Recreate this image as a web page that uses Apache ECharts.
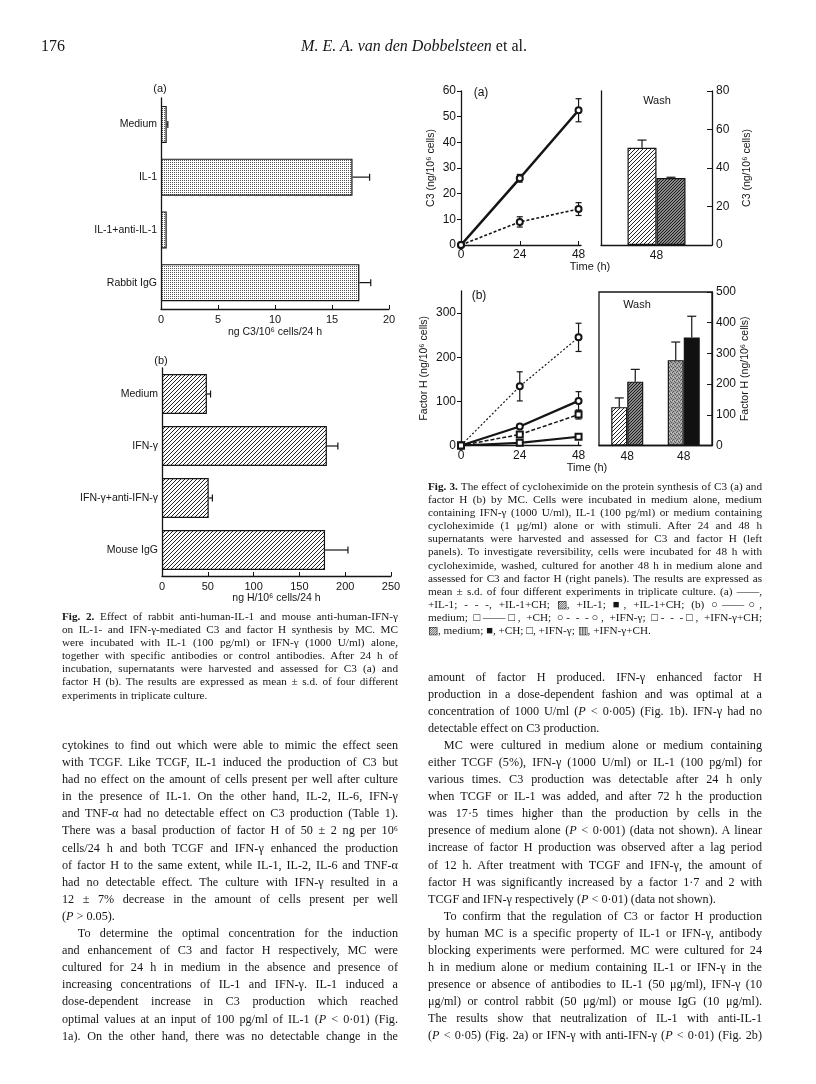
<!DOCTYPE html>
<html><head><meta charset="utf-8">
<script src="https://cdn.jsdelivr.net/npm/echarts@6/dist/echarts.min.js"></script>
<style>
html,body{margin:0;padding:0;background:#fff;}
#page{position:relative;width:816px;height:1084px;overflow:hidden;background:#fff;}
#chart{position:absolute;left:0;top:0;width:816px;height:1084px;}
.blk{position:absolute;font-family:"Liberation Serif","Times New Roman",serif;color:#151515;}
.ln{white-space:nowrap;text-align:justify;text-align-last:justify;overflow:visible;}
.ln.last{text-align-last:left;}
.ind{text-indent:1.3em;}
.cap{font-size:11.2px;line-height:13.1px;}
.body{font-size:12.2px;line-height:17.1px;}
i{font-style:italic;}
</style></head>
<body>
<div id="page">
<div id="chart"></div>

<div class="blk" style="left:41px;top:37px;font-size:16px;">176</div>
<div class="blk" style="left:8px;width:812px;text-align:center;top:37px;font-size:16px;"><i>M. E. A. van den Dobbelsteen</i> et al.</div>

<div class="blk cap" style="left:428px;top:480px;width:334px;">
<div class="ln"><b>Fig. 3.</b> The effect of cycloheximide on the protein synthesis of C3 (a) and</div>
<div class="ln">factor H (b) by MC. Cells were incubated in medium alone, medium</div>
<div class="ln">containing IFN-γ (1000 U/ml), IL-1 (100 pg/ml) or medium containing</div>
<div class="ln">cycloheximide (1 μg/ml) alone or with stimuli. After 24 and 48 h</div>
<div class="ln">supernatants were harvested and assessed for C3 and factor H (left</div>
<div class="ln">panels). To investigate reversibility, cells were incubated for 48 h with</div>
<div class="ln">cycloheximide, washed, cultured for another 48 h in medium alone and</div>
<div class="ln">assessed for C3 and factor H (right panels). The results are expressed as</div>
<div class="ln">mean ± s.d. of four different experiments in triplicate culture. (a) ——,</div>
<div class="ln">+IL-1; - - -, +IL-1+CH; ▨, +IL-1; ■, +IL-1+CH; (b) ○——○,</div>
<div class="ln">medium; □——□, +CH; ○- - -○, +IFN-γ; □- - -□, +IFN-γ+CH;</div>
<div class="ln last">▨, medium; ■, +CH; □, +IFN-γ; ▥, +IFN-γ+CH.</div>
</div>

<div class="blk cap" style="left:62px;top:610px;width:336px;">
<div class="ln"><b>Fig. 2.</b> Effect of rabbit anti-human-IL-1 and mouse anti-human-IFN-γ</div>
<div class="ln">on IL-1- and IFN-γ-mediated C3 and factor H synthesis by MC. MC</div>
<div class="ln">were incubated with IL-1 (100 pg/ml) or IFN-γ (1000 U/ml) alone,</div>
<div class="ln">together with specific antibodies or control antibodies. After 24 h of</div>
<div class="ln">incubation, supernatants were harvested and assessed for C3 (a) and</div>
<div class="ln">factor H (b). The results are expressed as mean ± s.d. of four different</div>
<div class="ln last">experiments in triplicate culture.</div>
</div>

<div class="blk body" style="left:62px;top:737px;width:336px;">
<div class="ln">cytokines to find out which were able to mimic the effect seen</div>
<div class="ln">with TCGF. Like TCGF, IL-1 induced the production of C3 but</div>
<div class="ln">had no effect on the amount of cells present per well after culture</div>
<div class="ln">in the presence of IL-1. On the other hand, IL-2, IL-6, IFN-γ</div>
<div class="ln">and TNF-α had no detectable effect on C3 production (Table 1).</div>
<div class="ln">There was a basal production of factor H of 50 ± 2 ng per 10⁶</div>
<div class="ln">cells/24 h and both TCGF and IFN-γ enhanced the production</div>
<div class="ln">of factor H to the same extent, while IL-1, IL-2, IL-6 and TNF-α</div>
<div class="ln">had no detectable effect. The culture with IFN-γ resulted in a</div>
<div class="ln">12 ± 7% decrease in the amount of cells present per well</div>
<div class="ln last">(<i>P</i> &gt; 0.05).</div>
<div class="ln ind">To determine the optimal concentration for the induction</div>
<div class="ln">and enhancement of C3 and factor H respectively, MC were</div>
<div class="ln">cultured for 24 h in medium in the absence and presence of</div>
<div class="ln">increasing concentrations of IL-1 and IFN-γ. IL-1 induced a</div>
<div class="ln">dose-dependent increase in C3 production which reached</div>
<div class="ln">optimal values at an input of 100 pg/ml of IL-1 (<i>P</i> &lt; 0·01) (Fig.</div>
<div class="ln">1a). On the other hand, there was no detectable change in the</div>
</div>

<div class="blk body" style="left:428px;top:668.5px;width:334px;">
<div class="ln">amount of factor H produced. IFN-γ enhanced factor H</div>
<div class="ln">production in a dose-dependent fashion and was optimal at a</div>
<div class="ln">concentration of 1000 U/ml (<i>P</i> &lt; 0·005) (Fig. 1b). IFN-γ had no</div>
<div class="ln last">detectable effect on C3 production.</div>
<div class="ln ind">MC were cultured in medium alone or medium containing</div>
<div class="ln">either TCGF (5%), IFN-γ (1000 U/ml) or IL-1 (100 pg/ml) for</div>
<div class="ln">various times. C3 production was detectable after 24 h only</div>
<div class="ln">when TCGF or IL-1 was added, and after 72 h the production</div>
<div class="ln">was 17·5 times higher than the production by cells in the</div>
<div class="ln">presence of medium alone (<i>P</i> &lt; 0·001) (data not shown). A linear</div>
<div class="ln">increase of factor H production was observed after a lag period</div>
<div class="ln">of 12 h. After treatment with TCGF and IFN-γ, the amount of</div>
<div class="ln">factor H was significantly increased by a factor 1·7 and 2 with</div>
<div class="ln last">TCGF and IFN-γ respectively (<i>P</i> &lt; 0·01) (data not shown).</div>
<div class="ln ind">To confirm that the regulation of C3 or factor H production</div>
<div class="ln">by human MC is a specific property of IL-1 or IFN-γ, antibody</div>
<div class="ln">blocking experiments were performed. MC were cultured for 24</div>
<div class="ln">h in medium alone or medium containing IL-1 or IFN-γ in the</div>
<div class="ln">presence or absence of antibodies to IL-1 (50 μg/ml), IFN-γ (10</div>
<div class="ln">μg/ml) or control rabbit (50 μg/ml) or mouse IgG (10 μg/ml).</div>
<div class="ln">The results show that neutralization of IL-1 with anti-IL-1</div>
<div class="ln">(<i>P</i> &lt; 0·05) (Fig. 2a) or IFN-γ with anti-IFN-γ (<i>P</i> &lt; 0·01) (Fig. 2b)</div>
</div>
</div>

<script>
// ---------------- data ----------------
const fig2aCategories = ['Medium', 'IL-1', 'IL-1+anti-IL-1', 'Rabbit IgG'];
const fig2aMeans = [0.5, 16.8, 0.5, 17.4];
const fig2aSD = [0.1, 1.5, 0, 1.0];

const fig2bCategories = ['Medium', 'IFN-γ', 'IFN-γ+anti-IFN-γ', 'Mouse IgG'];
const fig2bMeans = [49, 180, 51, 178];
const fig2bSD = [4, 12, 4, 25];

const fig3Times = [0, 24, 48];
const fig3aIL1 = [0, 26, 52.5];
const fig3aIL1SD = [0, 1.5, 4.5];
const fig3aIL1CH = [0, 9, 14];
const fig3aIL1CHSD = [0, 2, 2.5];

const fig3aWashLabels = ['48'];
const fig3aWashIL1 = [50.5];
const fig3aWashIL1SD = [4];
const fig3aWashIL1CH = [34.8];
const fig3aWashIL1CHSD = [0.4];

const fig3bMedium = [0, 43, 101];
const fig3bMediumSD = [0, 2, 21];
const fig3bCH = [0, 6, 20];
const fig3bCHSD = [0, 1, 2];
const fig3bIFN = [0, 134, 245];
const fig3bIFNSD = [0, 33, 32];
const fig3bIFNCH = [0, 25, 70];
const fig3bIFNCHSD = [0, 3, 10];

const fig3bWashLabels = ['48', '48'];
const fig3bWashLeft = [125, 278];    // medium, +IFN-γ
const fig3bWashLeftSD = [30, 59];
const fig3bWashRight = [208, 352];   // +CH, +IFN-γ+CH
const fig3bWashRightSD = [40, 69];

const fig3TimeTicks = [0, 24, 48];
const fig3bTicks = [0, 100, 200, 300];

// ---------------- fit text lines ----------------
document.querySelectorAll('.ln').forEach(el => {
  const w = el.parentElement.clientWidth;
  if (el.scrollWidth > w) {
    const n = el.textContent.length;
    el.style.letterSpacing = (-(el.scrollWidth - w + 1) / n) + 'px';
  }
});

// ---------------- patterns ----------------
function pattern(size, draw) {
  const c = document.createElement('canvas');
  c.width = c.height = size;
  const g = c.getContext('2d');
  draw(g, size);
  return { image: c, repeat: 'repeat' };
}
function diag(g, s, col, lw) {
  g.strokeStyle = col; g.lineWidth = lw;
  g.beginPath();
  for (let k = -1; k <= 1; k++) {
    g.moveTo(k * s, s); g.lineTo(k * s + s, 0);
  }
  g.stroke();
}
const stipple = pattern(2, (g, s) => {
  g.fillStyle = '#fff'; g.fillRect(0, 0, s, s);
  g.fillStyle = '#555'; g.fillRect(0, 0, 1, 1);
});
const hatch = pattern(4, (g, s) => { g.fillStyle = '#fff'; g.fillRect(0, 0, s, s); diag(g, s, '#222', 1); });
const denseHatch = pattern(3, (g, s) => { g.fillStyle = '#8a8a8a'; g.fillRect(0, 0, s, s); diag(g, s, '#1a1a1a', 1); });
const grayStipple = pattern(4, (g, s) => {
  g.fillStyle = '#a0a0a0'; g.fillRect(0, 0, s, s);
  g.fillStyle = '#5a5a5a';
  g.fillRect(0, 0, 1, 1); g.fillRect(2, 1, 1, 1); g.fillRect(1, 3, 1, 1); g.fillRect(3, 2, 1, 1);
  g.fillStyle = '#c8c8c8'; g.fillRect(1, 1, 1, 1); g.fillRect(3, 0, 1, 1);
});
const solidBlack = '#111';

// ---------------- helpers ----------------
const INK = '#151515';
const FONT = 'Liberation Sans';
const axisLine = { show: true, lineStyle: { color: INK, width: 1.3 } };
const lbl = (extra) => Object.assign({ color: INK, fontFamily: FONT, fontSize: 11 }, extra || {});
const nameStyle = { color: INK, fontFamily: FONT, fontSize: 10.5 };

function hErr(params, api) {
  const v = api.value(0), c = api.value(1), sd = api.value(2);
  if (!sd) return null;
  const p0 = api.coord([v, c]), p1 = api.coord([v + sd, c]);
  const st = { stroke: INK, lineWidth: 1.2 };
  return { type: 'group', children: [
    { type: 'line', shape: { x1: p0[0], y1: p0[1], x2: p1[0], y2: p1[1] }, style: st },
    { type: 'line', shape: { x1: p1[0], y1: p1[1] - 3.5, x2: p1[0], y2: p1[1] + 3.5 }, style: st }
  ] };
}
function vErrBoth(params, api) {
  const x = api.value(0), y = api.value(1), sd = api.value(2);
  if (!sd) return null;
  const a = api.coord([x, y + sd]), b = api.coord([x, y - sd]);
  const st = { stroke: INK, lineWidth: 1.2 };
  return { type: 'group', children: [
    { type: 'line', shape: { x1: a[0], y1: a[1], x2: b[0], y2: b[1] }, style: st },
    { type: 'line', shape: { x1: a[0] - 3, y1: a[1], x2: a[0] + 3, y2: a[1] }, style: st },
    { type: 'line', shape: { x1: b[0] - 3, y1: b[1], x2: b[0] + 3, y2: b[1] }, style: st }
  ] };
}
function barErrUp(barW) {
  return function (params, api) {
    const c = api.value(0), v = api.value(1), sd = api.value(2), side = api.value(3);
    const off = side * barW / 2;
    const a = api.coord([c, v]), b = api.coord([c, v + sd]);
    const x = a[0] + off;
    const st = { stroke: INK, lineWidth: 1.2 };
    return { type: 'group', children: [
      { type: 'line', shape: { x1: x, y1: a[1], x2: x, y2: b[1] }, style: st },
      { type: 'line', shape: { x1: x - 4.5, y1: b[1], x2: x + 4.5, y2: b[1] }, style: st }
    ] };
  };
}
const zip = (xs, ys) => xs.map((x, i) => [x, ys[i]]);
const zipErr = (xs, ys, sds) => xs.map((x, i) => [x, ys[i], sds[i], 0]);

function lineSeries(xi, yi, data, symbol, width, type) {
  return {
    type: 'line', xAxisIndex: xi, yAxisIndex: yi, data: data,
    symbol: symbol, symbolSize: 6, z: 4, animation: false,
    lineStyle: { color: INK, width: width, type: type },
    itemStyle: { color: INK, borderColor: INK, borderWidth: 1.1 }
  };
}
function errSeries(xi, yi, data, fn) {
  return { type: 'custom', xAxisIndex: xi, yAxisIndex: yi, data: data, renderItem: fn,
    encode: { x: 0, y: 1 }, z: 2, animation: false, silent: true };
}

// ---------------- chart ----------------
const chart = echarts.init(document.getElementById('chart'), null, { renderer: 'canvas' });

const option = {
  animation: false,
  backgroundColor: 'transparent',
  grid: [
    { left: 161, top: 98, width: 228, height: 211 },    // 0 Fig 2a
    { left: 162, top: 368, width: 229, height: 208 },   // 1 Fig 2b
    { left: 461, top: 91, width: 120, height: 154 },    // 2 Fig 3a left
    { left: 601, top: 91, width: 111, height: 154 },    // 3 Fig 3a right
    { left: 461, top: 291, width: 120, height: 154.5 }, // 4 Fig 3b left
    { left: 599, top: 292, width: 113, height: 153.5, show: true, borderColor: INK, borderWidth: 1.3, backgroundColor: 'transparent' } // 5
  ],
  xAxis: [
    { gridIndex: 0, type: 'value', min: 0, max: 20, interval: 5, axisLine: axisLine,
      axisTick: { show: true, inside: true, length: 4, lineStyle: { color: INK } },
      axisLabel: lbl({ margin: 5 }), splitLine: { show: false },
      name: 'ng C3/10⁶ cells/24 h', nameLocation: 'middle', nameGap: 18, nameTextStyle: nameStyle },
    { gridIndex: 1, type: 'value', min: 0, max: 250, interval: 50, axisLine: axisLine,
      axisTick: { show: true, inside: true, length: 4, lineStyle: { color: INK } },
      axisLabel: lbl({ margin: 5 }), splitLine: { show: false },
      name: 'ng H/10⁶ cells/24 h', nameLocation: 'middle', nameGap: 17, nameTextStyle: nameStyle },
    { gridIndex: 2, type: 'value', min: 0, max: 49, axisLine: axisLine,
      axisTick: { show: true, inside: true, length: 4, customValues: fig3TimeTicks, lineStyle: { color: INK } },
      axisLabel: lbl({ margin: 4, fontSize: 12, customValues: fig3TimeTicks }), splitLine: { show: false } },
    { gridIndex: 3, type: 'category', data: fig3aWashLabels, axisLine: axisLine,
      axisTick: { show: false }, axisLabel: lbl({ margin: 5, fontSize: 12 }) },
    { gridIndex: 4, type: 'value', min: 0, max: 49, axisLine: axisLine,
      axisTick: { show: true, inside: true, length: 4, customValues: fig3TimeTicks, lineStyle: { color: INK } },
      axisLabel: lbl({ margin: 4, fontSize: 12, customValues: fig3TimeTicks }), splitLine: { show: false } },
    { gridIndex: 5, type: 'category', data: fig3bWashLabels, axisLine: axisLine,
      axisTick: { show: false }, axisLabel: lbl({ margin: 5, fontSize: 12 }) }
  ],
  yAxis: [
    { gridIndex: 0, type: 'category', data: fig2aCategories, inverse: true, axisLine: axisLine,
      axisTick: { show: false }, axisLabel: lbl({ margin: 4, fontSize: 10.5 }) },
    { gridIndex: 1, type: 'category', data: fig2bCategories, inverse: true, axisLine: axisLine,
      axisTick: { show: false }, axisLabel: lbl({ margin: 4, fontSize: 10.5 }) },
    { gridIndex: 2, type: 'value', min: 0, max: 60, interval: 10, axisLine: axisLine,
      axisTick: { show: true, length: 4, lineStyle: { color: INK } },
      axisLabel: lbl({ margin: 5, fontSize: 12 }), splitLine: { show: false },
      name: 'C3 (ng/10⁶ cells)', nameLocation: 'middle', nameGap: 24, nameRotate: 90, nameTextStyle: nameStyle },
    { gridIndex: 3, type: 'value', position: 'right', min: 0, max: 80, interval: 20, axisLine: axisLine,
      axisTick: { show: true, inside: true, length: 5, lineStyle: { color: INK } },
      axisLabel: lbl({ margin: 4, fontSize: 12 }), splitLine: { show: false },
      name: 'C3 (ng/10⁶ cells)', nameLocation: 'middle', nameGap: 30, nameRotate: 90, nameTextStyle: nameStyle },
    { gridIndex: 3, type: 'value', position: 'left', min: 0, max: 80, axisLine: axisLine,
      axisTick: { show: false }, axisLabel: { show: false }, splitLine: { show: false } },
    { gridIndex: 4, type: 'value', min: 0, max: 350, axisLine: axisLine,
      axisTick: { show: true, length: 4, customValues: fig3bTicks, lineStyle: { color: INK } },
      axisLabel: lbl({ margin: 5, fontSize: 12, customValues: fig3bTicks }), splitLine: { show: false },
      name: 'Factor H (ng/10⁶ cells)', nameLocation: 'middle', nameGap: 31, nameRotate: 90, nameTextStyle: nameStyle },
    { gridIndex: 5, type: 'value', position: 'right', min: 0, max: 500, interval: 100, axisLine: axisLine,
      axisTick: { show: true, inside: true, length: 5, lineStyle: { color: INK } },
      axisLabel: lbl({ margin: 4, fontSize: 12 }), splitLine: { show: false },
      name: 'Factor H (ng/10⁶ cells)', nameLocation: 'middle', nameGap: 26, nameRotate: 90, nameTextStyle: nameStyle }
  ],
  graphic: [
    { type: 'text', x: 160, y: 89, style: { text: '(a)', fill: INK, font: '11px "Liberation Sans"', align: 'center', verticalAlign: 'middle' } },
    { type: 'text', x: 161, y: 361, style: { text: '(b)', fill: INK, font: '11px "Liberation Sans"', align: 'center', verticalAlign: 'middle' } },
    { type: 'text', x: 481, y: 93, style: { text: '(a)', fill: INK, font: '12px "Liberation Sans"', align: 'center', verticalAlign: 'middle' } },
    { type: 'text', x: 479, y: 296, style: { text: '(b)', fill: INK, font: '12px "Liberation Sans"', align: 'center', verticalAlign: 'middle' } },
    { type: 'text', x: 657, y: 101, style: { text: 'Wash', fill: INK, font: '11px "Liberation Sans"', align: 'center', verticalAlign: 'middle' } },
    { type: 'text', x: 637, y: 305, style: { text: 'Wash', fill: INK, font: '11px "Liberation Sans"', align: 'center', verticalAlign: 'middle' } },
    { type: 'text', x: 590, y: 267, style: { text: 'Time (h)', fill: INK, font: '11px "Liberation Sans"', align: 'center', verticalAlign: 'middle' } },
    { type: 'text', x: 587, y: 468, style: { text: 'Time (h)', fill: INK, font: '11px "Liberation Sans"', align: 'center', verticalAlign: 'middle' } }
  ],
  series: [
    // Fig 2a
    { type: 'bar', xAxisIndex: 0, yAxisIndex: 0, data: fig2aMeans, barWidth: 37,
      itemStyle: { color: stipple, borderColor: INK, borderWidth: 1.2 } },
    errSeries(0, 0, fig2aMeans.map((v, i) => [v, i, fig2aSD[i]]), hErr),
    // Fig 2b
    { type: 'bar', xAxisIndex: 1, yAxisIndex: 1, data: fig2bMeans, barWidth: 40,
      itemStyle: { color: hatch, borderColor: INK, borderWidth: 1.2 } },
    errSeries(1, 1, fig2bMeans.map((v, i) => [v, i, fig2bSD[i]]), hErr),
    // Fig 3a left
    lineSeries(2, 2, zip(fig3Times, fig3aIL1), 'emptyCircle', 2.6, 'solid'),
    lineSeries(2, 2, zip(fig3Times, fig3aIL1CH), 'emptyCircle', 1.6, [3, 2]),
    errSeries(2, 2, zipErr(fig3Times, fig3aIL1, fig3aIL1SD), vErrBoth),
    errSeries(2, 2, zipErr(fig3Times, fig3aIL1CH, fig3aIL1CHSD), vErrBoth),
    // Fig 3a right (wash)
    { type: 'bar', xAxisIndex: 3, yAxisIndex: 3, data: fig3aWashIL1, barWidth: 29, barGap: '0%',
      itemStyle: { color: hatch, borderColor: INK, borderWidth: 1.2 } },
    { type: 'bar', xAxisIndex: 3, yAxisIndex: 3, data: fig3aWashIL1CH, barWidth: 29, barGap: '0%',
      itemStyle: { color: denseHatch, borderColor: INK, borderWidth: 1.2 } },
    errSeries(3, 3, fig3aWashIL1.map((v, i) => [i, v, fig3aWashIL1SD[i], -1]), barErrUp(29)),
    errSeries(3, 3, fig3aWashIL1CH.map((v, i) => [i, v, fig3aWashIL1CHSD[i], 1]), barErrUp(29)),
    // Fig 3b left
    lineSeries(4, 5, zip(fig3Times, fig3bMedium), 'emptyCircle', 2.3, 'solid'),
    lineSeries(4, 5, zip(fig3Times, fig3bCH), 'emptyRect', 2.1, 'solid'),
    lineSeries(4, 5, zip(fig3Times, fig3bIFN), 'emptyCircle', 1.2, [2, 2]),
    lineSeries(4, 5, zip(fig3Times, fig3bIFNCH), 'emptyRect', 1.5, [4, 2]),
    errSeries(4, 5, zipErr(fig3Times, fig3bMedium, fig3bMediumSD), vErrBoth),
    errSeries(4, 5, zipErr(fig3Times, fig3bIFN, fig3bIFNSD), vErrBoth),
    errSeries(4, 5, zipErr(fig3Times, fig3bIFNCH, fig3bIFNCHSD), vErrBoth),
    // Fig 3b right (wash)
    { type: 'bar', xAxisIndex: 5, yAxisIndex: 6, barWidth: 16, barGap: '0%',
      data: fig3bWashLeft.map((v, i) => ({ value: v, itemStyle: { color: i === 0 ? hatch : grayStipple } })),
      itemStyle: { borderColor: INK, borderWidth: 1.2 } },
    { type: 'bar', xAxisIndex: 5, yAxisIndex: 6, barWidth: 16, barGap: '0%',
      data: fig3bWashRight.map((v, i) => ({ value: v, itemStyle: { color: i === 0 ? denseHatch : solidBlack } })),
      itemStyle: { borderColor: INK, borderWidth: 1.2 } },
    errSeries(5, 6, fig3bWashLeft.map((v, i) => [i, v, fig3bWashLeftSD[i], -1]), barErrUp(16)),
    errSeries(5, 6, fig3bWashRight.map((v, i) => [i, v, fig3bWashRightSD[i], 1]), barErrUp(16))
  ]
};
chart.setOption(option);
</script>
</body></html>
